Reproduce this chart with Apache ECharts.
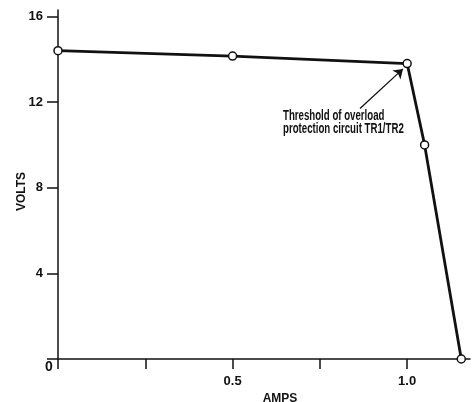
<!DOCTYPE html>
<html>
<head>
<meta charset="utf-8">
<script src="https://cdn.jsdelivr.net/npm/echarts@6/dist/echarts.min.js"></script>
<style>
html, body { margin: 0; padding: 0; background: #fff; }
#chart { width: 475px; height: 402px; }
</style>
</head>
<body>
<div id="chart"></div>
<script>
// readings
const amps = [0, 0.5, 1.0, 1.05, 1.155];
const volts = [14.4, 14.15, 13.8, 10.0, 0];
const xTicks = [0, 0.25, 0.5, 0.75, 1.0];
const xLabels = [0.5, 1.0];
const yTicks = [0, 4, 8, 12, 16];
const yLabels = [4, 8, 12, 16];
const noteLines = ['Threshold of overload', 'protection circuit TR1/TR2'];
const arrowFrom = [0.865, 11.7];
const arrowTo = [0.988, 13.55];

const font = '"Liberation Sans", sans-serif';
const ink = '#111';

var myChart = echarts.init(document.getElementById('chart'));

var option = {
    animation: false,
    backgroundColor: '#fff',
    grid: { left: 58, right: 5, top: 10, bottom: 43, containLabel: false, outerBoundsMode: 'none' },
    xAxis: {
        type: 'value',
        min: 0,
        max: 1.18,
        name: 'AMPS',
        nameLocation: 'middle',
        nameGap: 33,
        nameTextStyle: { color: ink, fontFamily: font, fontWeight: 'bold', fontSize: 12, padding: [0, 0, 0, 32] },
        splitLine: { show: false },
        axisLine: { lineStyle: { color: ink, width: 1.5 } },
        axisTick: { customValues: xTicks, length: 10, lineStyle: { color: ink, width: 1.5 } },
        axisLabel: {
            customValues: xLabels,
            margin: 16,
            color: ink, fontFamily: font, fontWeight: 'bold', fontSize: 13,
            formatter: function (v) { return v.toFixed(1); }
        }
    },
    yAxis: {
        type: 'value',
        min: 0,
        max: 16.3,
        name: 'VOLTS',
        nameLocation: 'middle',
        nameGap: 30,
        nameMoveOverlap: false,
        nameRotate: 90,
        nameTextStyle: { color: ink, fontFamily: font, fontWeight: 'bold', fontSize: 12, padding: [0, 14, 0, 0] },
        splitLine: { show: false },
        axisLine: { onZero: false, lineStyle: { color: ink, width: 1.5 } },
        axisTick: { customValues: yTicks, length: 11, lineStyle: { color: ink, width: 1.5 } },
        axisLabel: {
            customValues: yLabels,
            margin: 15,
            color: ink, fontFamily: font, fontWeight: 'bold', fontSize: 13
        }
    },
    graphic: [
        {
            type: 'text', left: 283, top: 109, scaleX: 0.69,
            style: { text: noteLines.join('\n'), fill: ink, font: 'bold 14px ' + font, lineHeight: 13 }
        },
        {
            type: 'text', left: 45, top: 360,
            style: { text: '0', fill: ink, font: 'bold 14px ' + font }
        }
    ],
    series: [
        {
            type: 'line',
            data: amps.map(function (a, i) { return [a, volts[i]]; }),
            symbol: 'circle',
            symbolSize: 8,
            itemStyle: { color: '#fff', borderColor: ink, borderWidth: 1.5 },
            lineStyle: { color: ink, width: 2.8 },
            markLine: {
                silent: true,
                symbolSize: 9,
                label: { show: false },
                lineStyle: { color: ink, width: 1.3, type: 'solid' },
                data: [[
                    { coord: arrowFrom, symbol: 'none' },
                    { coord: arrowTo, symbol: 'arrow' }
                ]]
            },
            z: 3
        }
    ]
};

myChart.setOption(option);
</script>
</body>
</html>
